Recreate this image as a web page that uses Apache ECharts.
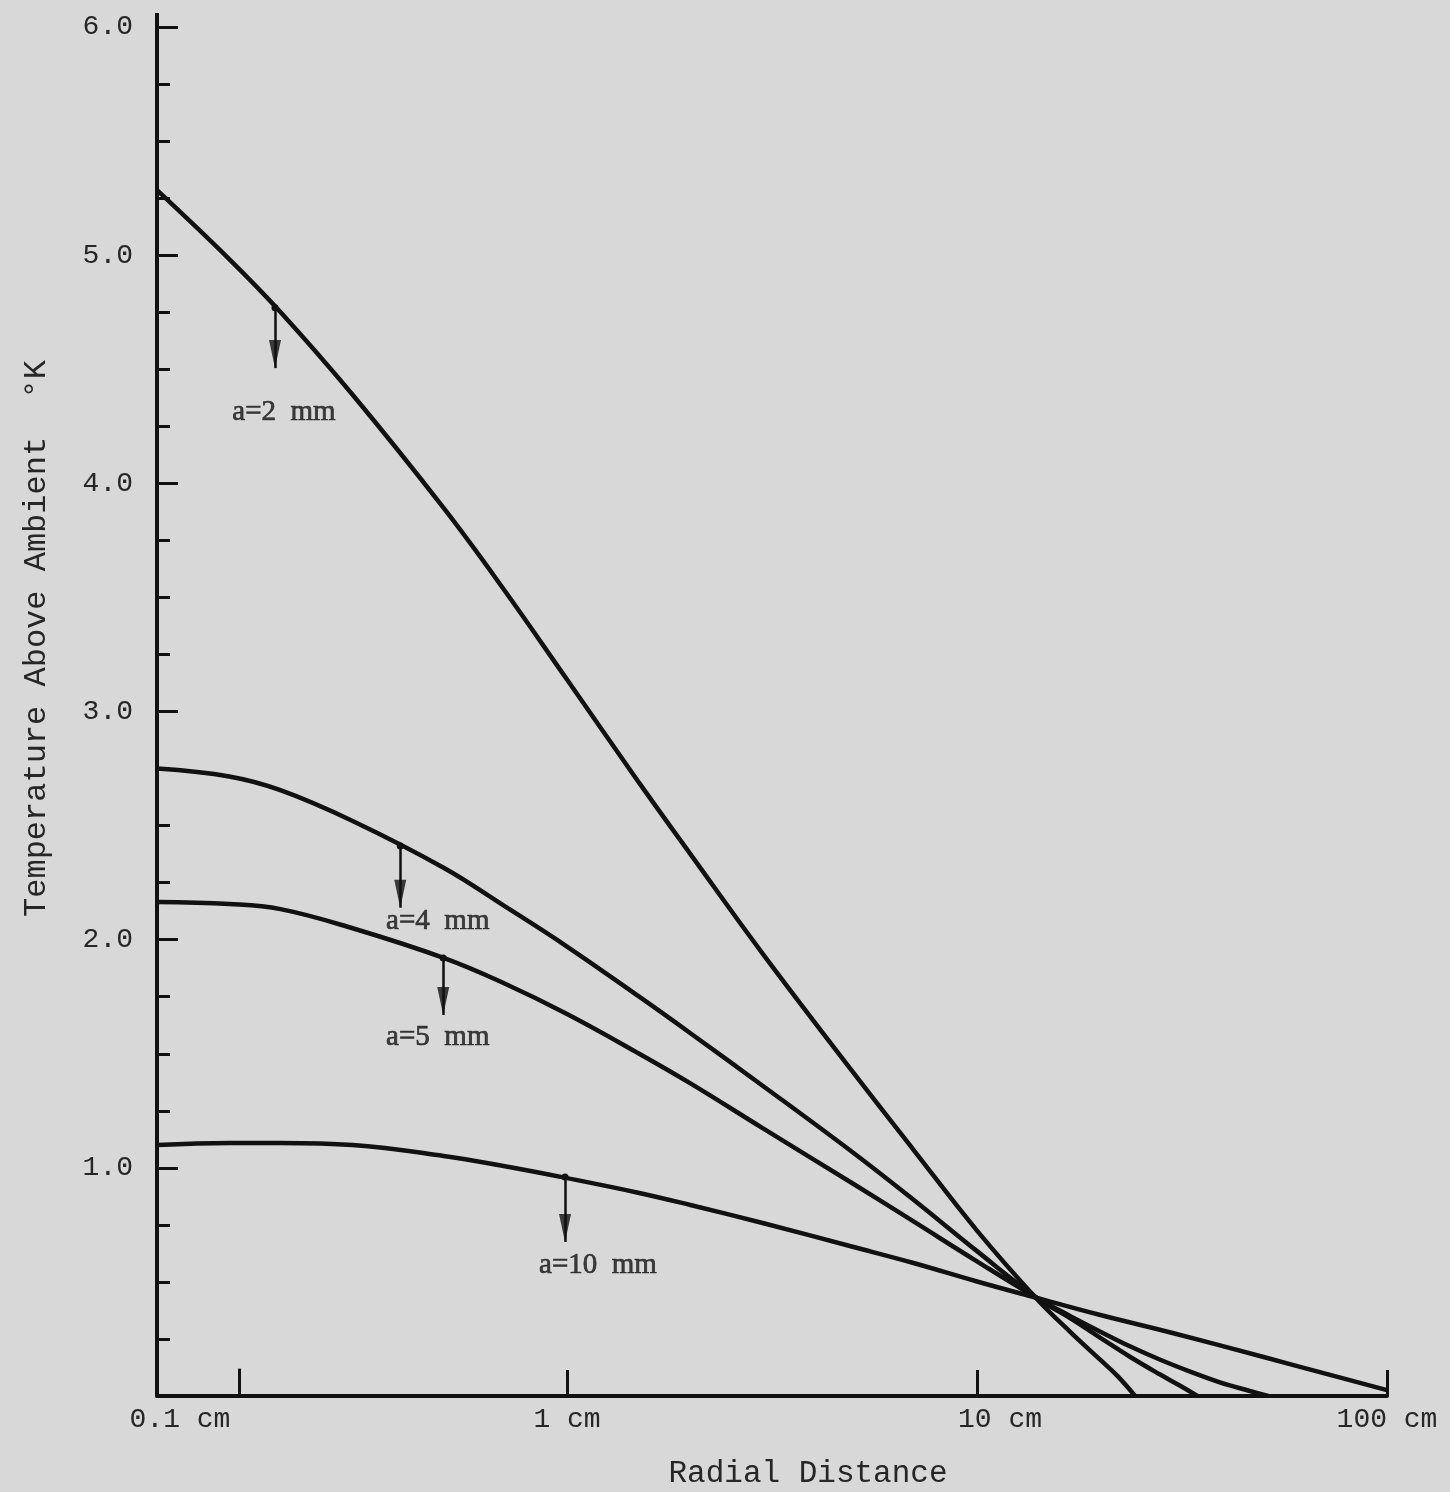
<!DOCTYPE html>
<html>
<head>
<meta charset="utf-8">
<script src="https://cdn.jsdelivr.net/npm/echarts@6/dist/echarts.min.js"></script>
<style>
  html, body { margin: 0; padding: 0; background: #d8d8d8; }
  #chart { width: 1450px; height: 1492px; }
</style>
</head>
<body>
<div id="chart"></div>
<script>
// Radial distance (cm) and temperature rise (°K) for each source radius a
const xA2  = [0.1, 0.15, 0.2, 0.3, 0.5, 0.7, 1, 1.5, 2, 3, 5, 7, 10, 14, 16.9, 20, 22, 24.3];
const yA2  = [5.285, 4.983, 4.751, 4.388, 3.892, 3.537, 3.14, 2.687, 2.375, 1.939, 1.416, 1.079, 0.725, 0.425, 0.28, 0.158, 0.088, 0];

const xA4  = [0.1, 0.15, 0.2, 0.3, 0.5, 0.7, 1, 1.5, 2, 3, 5, 7, 10, 14, 16.9, 20, 23.6, 27.9, 31.3, 34.5];
const yA4  = [2.75, 2.715, 2.655, 2.52, 2.315, 2.15, 1.97, 1.75, 1.59, 1.36, 1.065, 0.86, 0.635, 0.43, 0.34, 0.255, 0.172, 0.095, 0.045, 0];

const xA5  = [0.1, 0.15, 0.2, 0.3, 0.5, 0.7, 1, 1.5, 2, 3, 5, 7, 10, 14, 16.9, 20, 23.6, 27.9, 33.1, 39.1, 46.3, 51.3];
const yA5  = [2.165, 2.156, 2.134, 2.05, 1.92, 1.81, 1.674, 1.50, 1.37, 1.174, 0.929, 0.765, 0.59, 0.43, 0.35, 0.282, 0.218, 0.16, 0.107, 0.06, 0.022, 0];

const xA10 = [0.1, 0.15, 0.2, 0.3, 0.5, 0.7, 1, 1.5, 2, 3, 5, 7, 10, 14, 20, 30, 50, 70, 100];
const yA10 = [1.10, 1.109, 1.109, 1.10, 1.052, 1.008, 0.955, 0.89, 0.837, 0.758, 0.653, 0.583, 0.502, 0.43, 0.355, 0.276, 0.171, 0.10, 0.026];

// Curve labels: arrow from the curve down to the tip, text below it
const curveNames = ['a=2  mm', 'a=4  mm', 'a=5  mm', 'a=10  mm'];
const arrowX     = [0.194, 0.392, 0.499, 0.989];
const arrowFromY = [4.77, 2.41, 1.92, 0.96];
const arrowTipY  = [4.505, 2.14, 1.67, 0.675];
const labelX     = [0.204, 0.484, 0.484, 1.19];
const labelY     = [4.31, 2.08, 1.57, 0.574];

// Axis tick labels
const xTickLabels = { '-1': '0.1 cm', '0': '1 cm', '1': '10 cm', '2': '100 cm' };
const yTickLabels = ['', '1.0', '2.0', '3.0', '4.0', '5.0', '6.0'];
const extraXTicks = [0.159];

const ink = '#111111';
const textInk = '#262626';
const mono = '"Liberation Mono", "DejaVu Sans Mono", monospace';
const serif = '"Liberation Serif", "DejaVu Serif", serif';

function zip(xs, ys) { return xs.map((x, i) => [x, ys[i]]); }

function curve(xs, ys, idx) {
  return {
    type: 'line',
    data: zip(xs, ys),
    smooth: 0.4,
    symbol: 'none',
    lineStyle: { color: ink, width: 4.5 },
    z: 3,
    markLine: {
      silent: true,
      symbol: ['circle', 'none'],
      symbolSize: 7,
      lineStyle: { color: ink, width: 2.5, type: 'solid' },
      label: { show: false },
      data: [[{ coord: [arrowX[idx], arrowFromY[idx]] }, { coord: [arrowX[idx], arrowTipY[idx]] }]]
    }
  };
}

const chart = echarts.init(document.getElementById('chart'), null, { renderer: 'canvas' });

chart.setOption({
  backgroundColor: '#d8d8d8',
  animation: false,
  grid: { left: 157, right: 63, top: 27, bottom: 96, containLabel: false, outerBoundsMode: 'none' },
  xAxis: {
    type: 'log',
    logBase: 10,
    min: 0.1,
    max: 100,
    name: 'Radial Distance',
    nameLocation: 'middle',
    nameGap: 62,
    nameTextStyle: { fontFamily: mono, fontSize: 31, color: textInk, padding: [0, 0, 0, 72] },
    axisLine: { show: true, lineStyle: { color: ink, width: 4 } },
    axisTick: { show: true, inside: true, length: 26, lineStyle: { color: ink, width: 3 } },
    minorTick: { show: false },
    splitLine: { show: false },
    axisLabel: {
      margin: 10,
      fontFamily: mono,
      fontSize: 28,
      color: textInk,
      formatter: function (v) {
        const e = Math.round(Math.log10(v));
        const t = xTickLabels[String(e)] || '';
        return (e === -1 || e === 1) ? '{s|' + t + '}' : '{n|' + t + '}';
      },
      rich: {
        s: { fontFamily: mono, fontSize: 28, color: textInk, padding: [0, 0, 0, 46] },
        n: { fontFamily: mono, fontSize: 28, color: textInk }
      }
    }
  },
  yAxis: {
    type: 'value',
    min: 0,
    max: 6,
    interval: 1,
    name: 'Temperature Above Ambient  °K',
    nameLocation: 'middle',
    nameGap: 104,
    nameTextStyle: { fontFamily: mono, fontSize: 32, color: textInk, padding: [0, 0, 0, 146] },
    axisLine: {
      show: true,
      symbol: ['none', 'rect'],
      symbolSize: [4, 28],
      lineStyle: { color: ink, width: 4 }
    },
    axisTick: { show: true, inside: true, length: 21, lineStyle: { color: ink, width: 3 } },
    minorTick: { show: true, splitNumber: 4, length: 13, lineStyle: { color: ink, width: 3 } },
    splitLine: { show: false },
    axisLabel: {
      margin: 24,
      fontFamily: mono,
      fontSize: 28,
      color: textInk,
      formatter: function (v) { return yTickLabels[Math.round(v)] || ''; }
    }
  },
  series: [
    curve(xA2, yA2, 0),
    curve(xA4, yA4, 1),
    curve(xA5, yA5, 2),
    curve(xA10, yA10, 3),
    {
      // short extra tick on the distance axis
      type: 'line',
      data: [],
      markLine: {
        silent: true,
        symbol: ['none', 'none'],
        lineStyle: { color: ink, width: 3, type: 'solid' },
        label: { show: false },
        data: extraXTicks.map(x => [{ coord: [x, 0] }, { coord: [x, 0.12] }])
      }
    },
    {
      // arrow heads, tip placed on the given value
      type: 'scatter',
      silent: true,
      symbol: 'path://M0,0 L10,0 L5,28 Z',
      symbolSize: [12, 28],
      symbolOffset: [0, -14],
      itemStyle: { color: ink },
      data: arrowX.map((x, i) => [x, arrowTipY[i]]),
      z: 4
    },
    {
      type: 'scatter',
      symbolSize: 0,
      silent: true,
      data: labelX.map((x, i) => [x, labelY[i], curveNames[i]]),
      label: {
        show: true,
        position: 'inside',
        formatter: p => p.data[2],
        fontFamily: serif,
        fontSize: 29,
        color: '#151515',
        textBorderColor: '#151515',
        textBorderWidth: 0.7
      },
      z: 5
    }
  ]
});
</script>
</body>
</html>
